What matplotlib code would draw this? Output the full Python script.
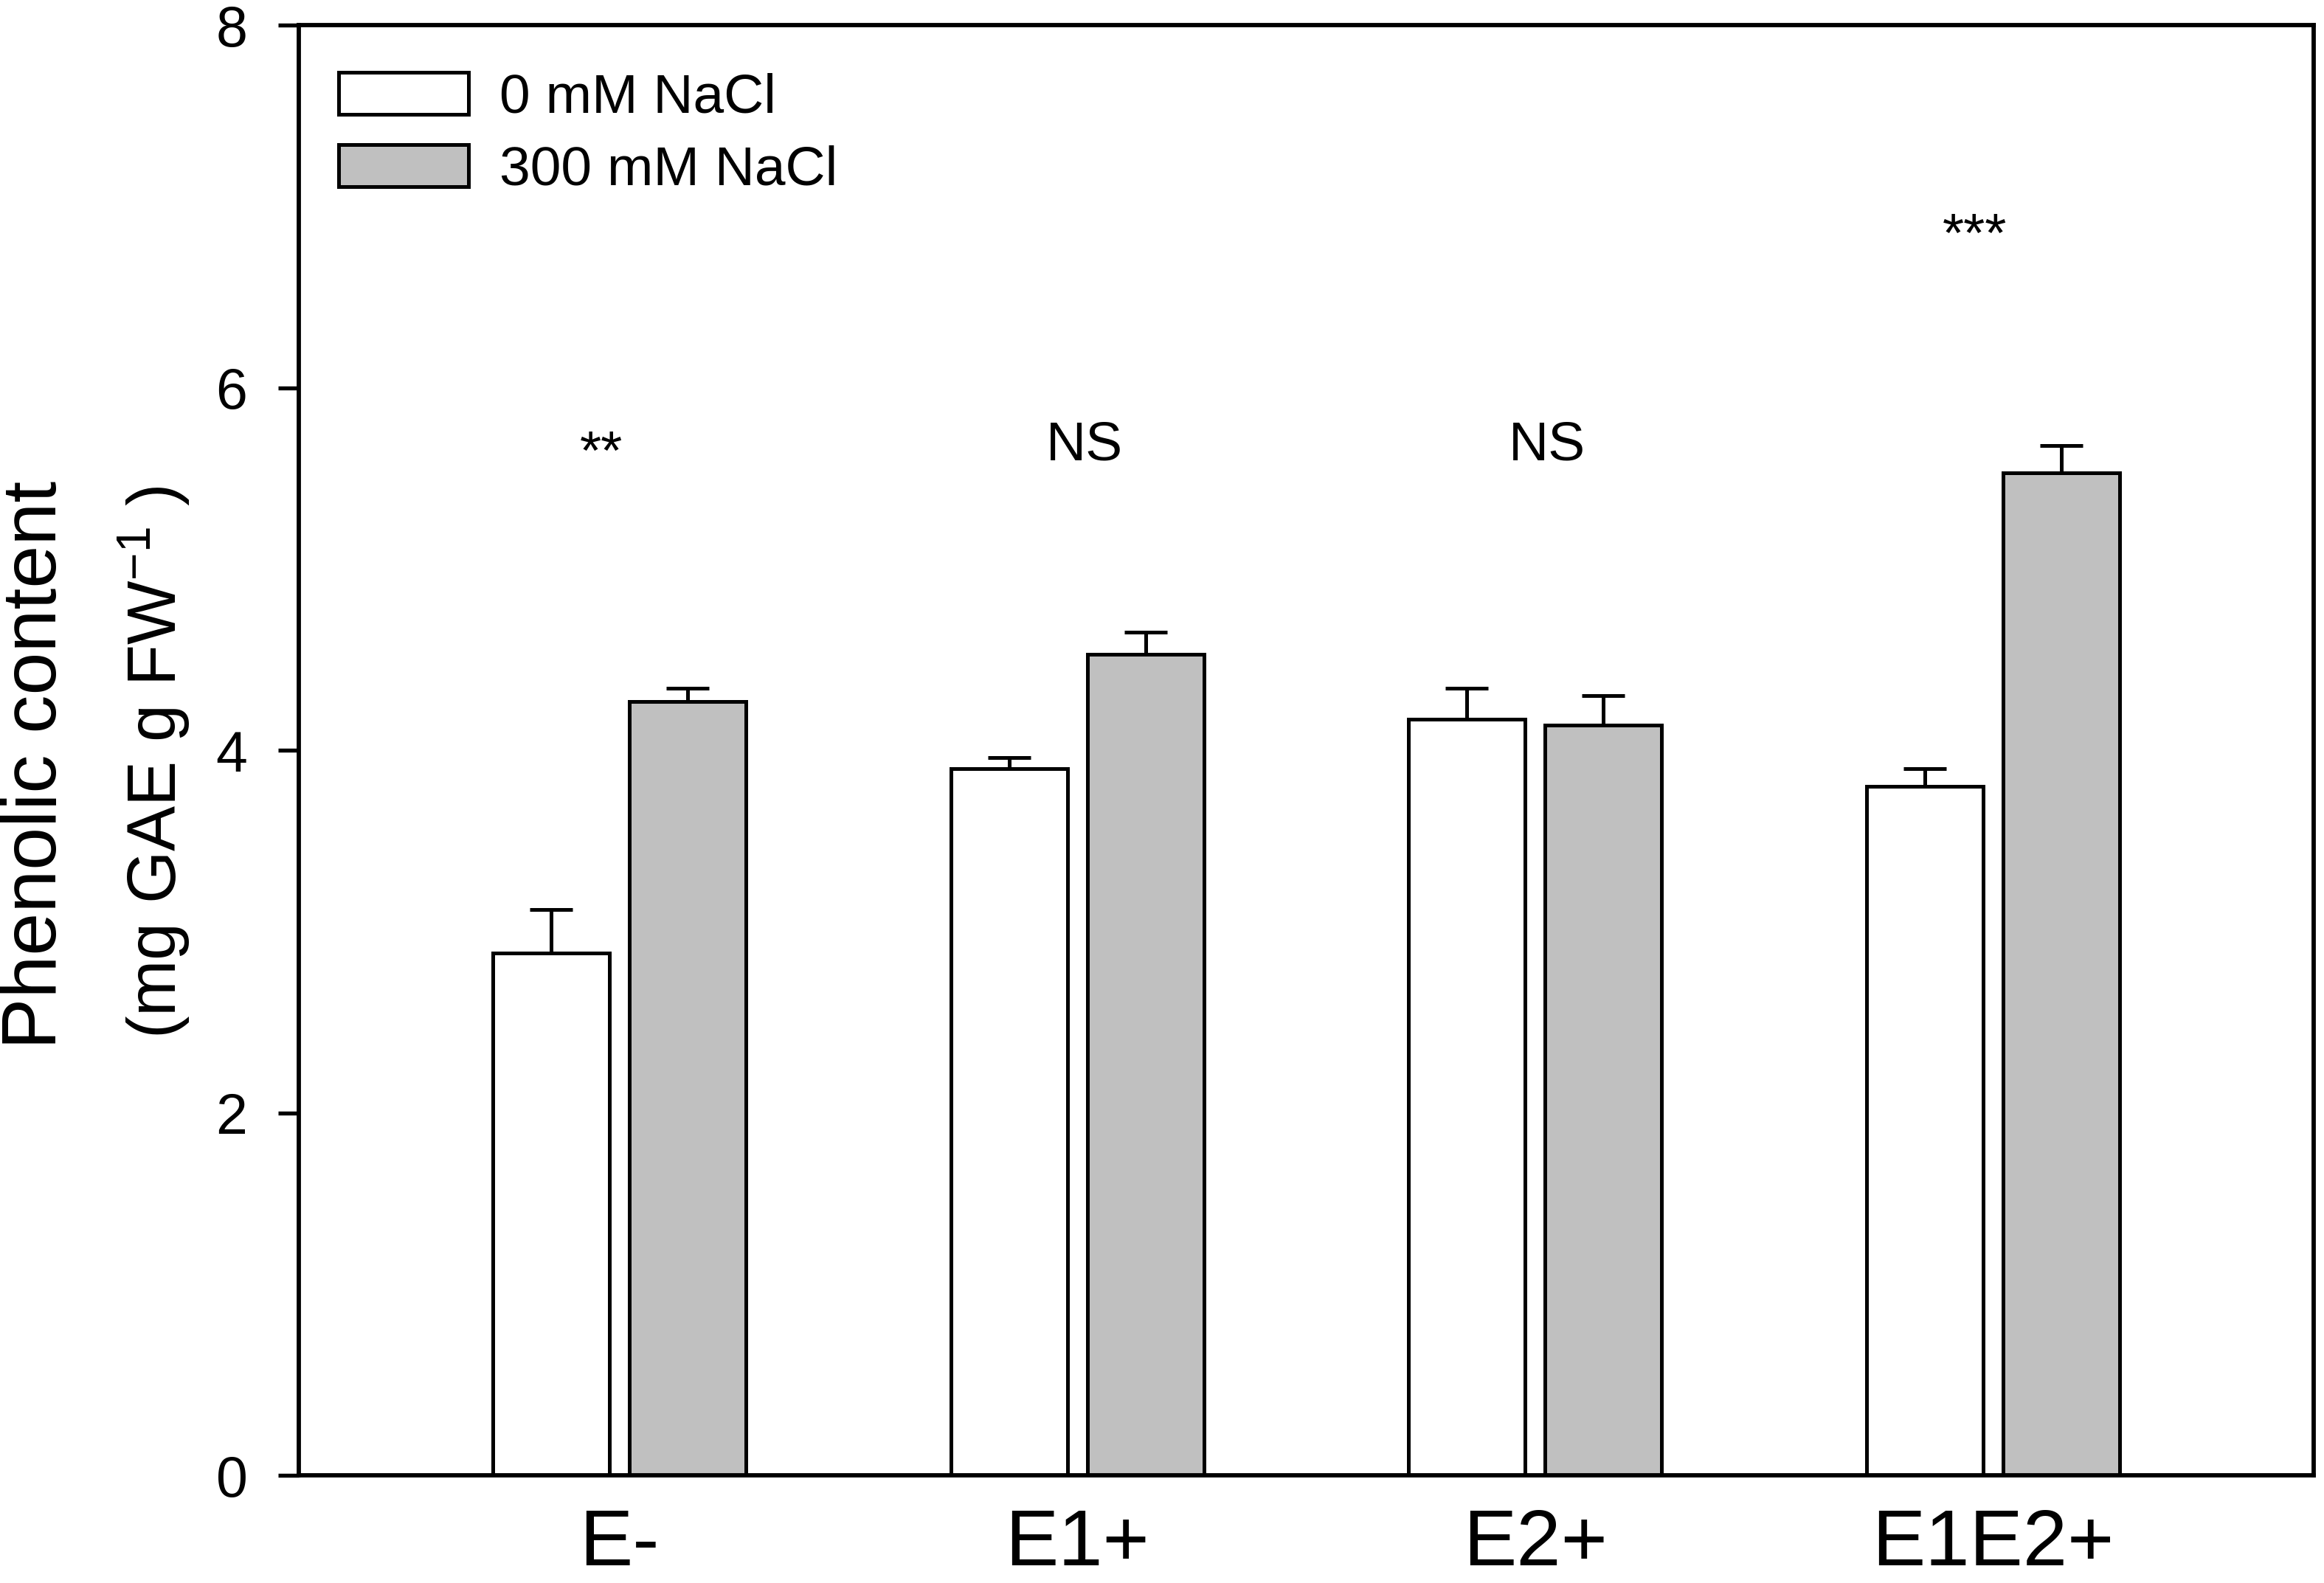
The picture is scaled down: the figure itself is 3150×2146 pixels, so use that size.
import matplotlib
matplotlib.use("Agg")
import matplotlib.pyplot as plt
import numpy as np

plt.rcParams['font.family'] = ['Liberation Sans', 'DejaVu Sans']
plt.rcParams['mathtext.fontset'] = 'custom'
plt.rcParams['mathtext.rm'] = 'Liberation Sans'
plt.rcParams['mathtext.it'] = 'Liberation Sans:italic'
plt.rcParams['mathtext.default'] = 'regular'

# ---- data ----
categories = ["E-", "E1+", "E2+", "E1E2+"]
series_labels = ["0 mM NaCl", "300 mM NaCl"]
vals_0mM = [2.88, 3.90, 4.17, 3.80]
err_0mM = [0.24, 0.06, 0.17, 0.10]
vals_300mM = [4.27, 4.53, 4.14, 5.53]
err_300mM = [0.07, 0.12, 0.16, 0.15]
sig_labels = ["**", "NS", "NS", "***"]
sig_x = [-0.04, 1.016, 2.026, 2.96]
sig_y = [5.55, 5.60, 5.60, 6.75]
yticks = [0, 2, 4, 6, 8]

W, H, DPI = 3150, 2146, 300
fig = plt.figure(figsize=(W / DPI, H / DPI), dpi=DPI)
ax = fig.add_axes([405 / W, 1 - 2000 / H, (3136 - 405) / W, (2000 - 34) / H])

x = np.arange(len(categories))
bw = 0.255
off = 0.149
lw = 1.2
ax.bar(x - off, vals_0mM, bw, color='white', edgecolor='black', linewidth=lw,
       label=series_labels[0], zorder=2)
ax.bar(x + off, vals_300mM, bw, color='#c0c0c0', edgecolor='black', linewidth=lw,
       label=series_labels[1], zorder=2)
ax.errorbar(x - off, vals_0mM, yerr=[np.zeros(len(x)), err_0mM], fmt='none',
            ecolor='black', elinewidth=lw, capsize=7, capthick=lw, zorder=1)
ax.errorbar(x + off, vals_300mM, yerr=[np.zeros(len(x)), err_300mM], fmt='none',
            ecolor='black', elinewidth=lw, capsize=7, capthick=lw, zorder=1)

for sx, sy, s in zip(sig_x, sig_y, sig_labels):
    ax.text(sx, sy, s, ha='center', va='baseline', fontsize=18)

ax.set_xlim(-0.7, 3.7)
ax.set_ylim(0, 8)
ax.set_yticks(yticks)
ax.set_yticklabels([str(t) for t in yticks], fontsize=18.5)
ax.set_xticks(x)
ax.set_xticklabels(categories, fontsize=26)
ax.tick_params(axis='x', length=0, pad=10.5)
ax.tick_params(axis='y', direction='out', length=6.7, width=1.3, pad=10)
for sp in ax.spines.values():
    sp.set_linewidth(1.4)

leg = ax.legend(loc='upper left', bbox_to_anchor=((459 - 405) / (3136 - 405), 1 - (98 - 34) / (2000 - 34)),
                frameon=False, fontsize=18, handlelength=2.35, handleheight=0.8,
                handletextpad=0.56, labelspacing=0.37, borderpad=0, borderaxespad=0)
for p in leg.get_patches():
    p.set_linewidth(lw)

fig.text(50 / W, 1 - 1037 / H, "Phenolic content", rotation=90, ha='center', va='center', fontsize=25)
fig.text(209 / W, 1 - 1033 / H, r"(mg GAE g FW$^{-1}$ )", rotation=90, ha='center', va='center', fontsize=22)

fig.savefig("out.png", dpi=DPI)
